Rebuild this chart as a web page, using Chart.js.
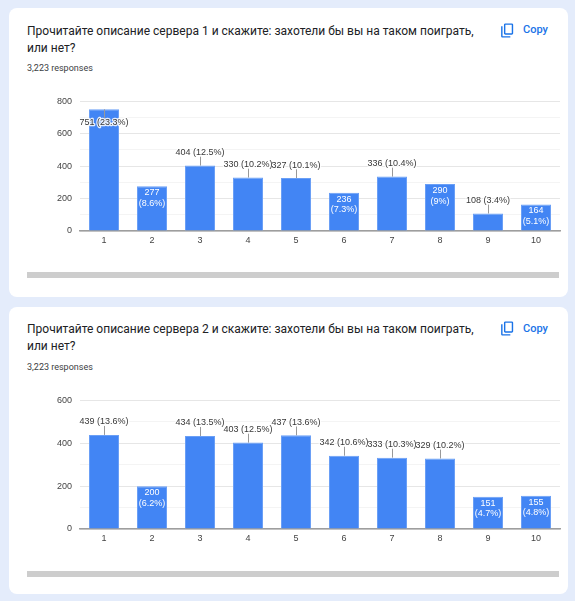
<!DOCTYPE html>
<html>
<head>
<meta charset="utf-8">
<script src="https://cdn.jsdelivr.net/npm/chart.js@4.4.1/dist/chart.umd.min.js"></script>
<style>
  html, body { margin: 0; padding: 0; }
  body {
    width: 575px; height: 601px; position: relative; overflow: hidden;
    background: #e4ecfb;
    font-family: Roboto, "Noto Sans", Arial, sans-serif;
  }
  .card { position: absolute; left: 9px; width: 559px; background: #fff; border-radius: 8px; }
  .title { position: absolute; left: 27px; font-size: 12px; line-height: 17px; color: #202124; white-space: nowrap; }
  .resp { position: absolute; left: 27px; font-size: 9px; line-height: 12px; color: #3c4043; }
  .copy-icon { position: absolute; left: 499px; width: 17px; height: 17px; }
  .copy-text { position: absolute; left: 523px; font-size: 11px; line-height: 13px; font-weight: 500; color: #1a73e8; }
  .scroll { position: absolute; left: 27px; width: 532px; height: 6px; background: #cdcdcd; }
  canvas { position: absolute; left: 27px; }
</style>
</head>
<body>

<!-- карточка 1 -->
<div class="card" style="top:8px;height:289px"></div>
<div class="title" style="top:23px">Прочитайте описание сервера 1 и скажите: захотели бы вы на таком поиграть,<br>или нет?</div>
<div class="resp" style="top:62px">3,223 responses</div>
<svg class="copy-icon" style="top:21.5px" viewBox="0 -960 960 960"><path fill="#1a73e8" d="M360-240q-33 0-56.5-23.5T280-320v-480q0-33 23.5-56.5T360-880h360q33 0 56.5 23.5T800-800v480q0 33-23.5 56.5T720-240H360Zm0-80h360v-480H360v480ZM200-80q-33 0-56.5-23.5T120-160v-560h80v560h440v80H200Zm160-240v-480 480Z"/></svg>
<div class="copy-text" style="top:23px">Copy</div>
<canvas id="chart-server1" width="540" height="170" style="top:88px;width:540px;height:170px"></canvas>
<div class="scroll" style="top:272px"></div>

<!-- карточка 2 -->
<div class="card" style="top:307px;height:287px"></div>
<div class="title" style="top:321px">Прочитайте описание сервера 2 и скажите: захотели бы вы на таком поиграть,<br>или нет?</div>
<div class="resp" style="top:360.5px">3,223 responses</div>
<svg class="copy-icon" style="top:320px" viewBox="0 -960 960 960"><path fill="#1a73e8" d="M360-240q-33 0-56.5-23.5T280-320v-480q0-33 23.5-56.5T360-880h360q33 0 56.5 23.5T800-800v480q0 33-23.5 56.5T720-240H360Zm0-80h360v-480H360v480ZM200-80q-33 0-56.5-23.5T120-160v-560h80v560h440v80H200Zm160-240v-480 480Z"/></svg>
<div class="copy-text" style="top:321.5px">Copy</div>
<canvas id="chart-server2" width="540" height="170" style="top:387px;width:540px;height:170px"></canvas>
<div class="scroll" style="top:571px"></div>

<script>
  /*  ===================== DATA ===================== */
  const categories = ["1", "2", "3", "4", "5", "6", "7", "8", "9", "10"];
  const server1Counts = [751, 277, 404, 330, 327, 236, 336, 290, 108, 164];
  const server2Counts = [439, 200, 434, 403, 437, 342, 333, 329, 151, 155];
  const totalResponses = 3223;
  const server1YMax = 800;
  const server2YMax = 600;
  /*  ================================================ */

  const LABEL_FONT = '9px Arial, "Liberation Sans", sans-serif';
  Chart.defaults.font.family = 'Arial, "Liberation Sans", sans-serif';
  Chart.defaults.font.size = 9;

  function pct(v) {
    return Math.round((v / totalResponses) * 1000) / 10; // 9.0 -> 9
  }

  // подписи над столбцами в стиле Google Charts
  const barAnnotations = {
    id: "barAnnotations",
    afterDatasetsDraw(chart) {
      const { ctx, chartArea } = chart;
      const meta = chart.getDatasetMeta(0);
      const values = chart.data.datasets[0].data;
      ctx.save();
      ctx.font = LABEL_FONT;
      ctx.textAlign = "center";
      ctx.textBaseline = "middle";

      const outside = [];
      meta.data.forEach((bar, i) => {
        const v = values[i];
        const p = pct(v);
        const top = bar.y;
        const height = bar.base - bar.y;
        const lines = [String(v), "(" + p + "%)"];
        const maxW = Math.max(...lines.map((l) => ctx.measureText(l).width));

        if (maxW + 2 <= bar.width && height >= 24) {
          // внутри столбца, две строки белым
          ctx.fillStyle = "#ffffff";
          ctx.fillText(lines[0], bar.x, top + 6.5);
          ctx.fillText(lines[1], bar.x, top + 17);
          return;
        }

        const flip = top - 20 < chartArea.top; // нет места сверху
        outside.push({
          x: bar.x,
          top: top,
          stemEnd: flip ? top + 9 : top - 9,
          textY: flip ? top + 13.5 : top - 13,
          text: v + " (" + p + "%)",
        });
      });

      // сначала ножки и белая обводка, потом сам текст
      outside.forEach((a) => {
        ctx.strokeStyle = "#999999";
        ctx.lineWidth = 1;
        ctx.beginPath();
        ctx.moveTo(Math.round(a.x) + 0.5, a.top);
        ctx.lineTo(Math.round(a.x) + 0.5, a.stemEnd);
        ctx.stroke();

        ctx.lineWidth = 2.5;
        ctx.lineJoin = "round";
        ctx.strokeStyle = "rgba(255,255,255,0.85)";
        ctx.strokeText(a.text, a.x, a.textY);
      });
      outside.forEach((a) => {
        ctx.fillStyle = "#383838";
        ctx.fillText(a.text, a.x, a.textY);
      });
      ctx.restore();
    },
  };

  function initBarChart(canvasId, counts, yMax, xAxisHeight) {
    const canvas = document.getElementById(canvasId);
    if (!canvas) return null;

    return new Chart(canvas.getContext("2d"), {
      type: "bar",
      data: {
        labels: categories,
        datasets: [
          {
            data: counts,
            backgroundColor: "#4285f4",
            borderColor: "#6a9ff6",
            borderWidth: 1,
            categoryPercentage: 1,
            barPercentage: 0.625,
          },
        ],
      },
      options: {
        responsive: false,
        animation: false,
        layout: { padding: { top: 12, right: 7, bottom: 0, left: 0 } },
        plugins: { legend: { display: false }, tooltip: { enabled: false } },
        scales: {
          x: {
            afterFit: (scale) => { scale.height = xAxisHeight; },
            grid: { display: false, drawTicks: false },
            border: { display: true, color: "#9e9e9e", width: 1.5 },
            ticks: { color: "#444444", padding: 4, font: { size: 9 }, maxRotation: 0 },
          },
          y: {
            min: 0,
            max: yMax,
            afterFit: (scale) => { scale.width = 53; },
            border: { display: false },
            grid: {
              drawTicks: false,
              lineWidth: 1,
              color: (context) =>
                context.tick && context.tick.value % 200 === 0 ? "#e6e6e6" : "#f4f4f4",
            },
            ticks: {
              stepSize: 100,
              padding: 8,
              color: "#444444",
              font: { size: 9 },
              callback: (value) => (value % 200 === 0 ? value : ""),
            },
          },
        },
      },
      plugins: [barAnnotations],
    });
  }

  initBarChart("chart-server1", server1Counts, server1YMax, 27);
  initBarChart("chart-server2", server2Counts, server2YMax, 28);
</script>
</body>
</html>
